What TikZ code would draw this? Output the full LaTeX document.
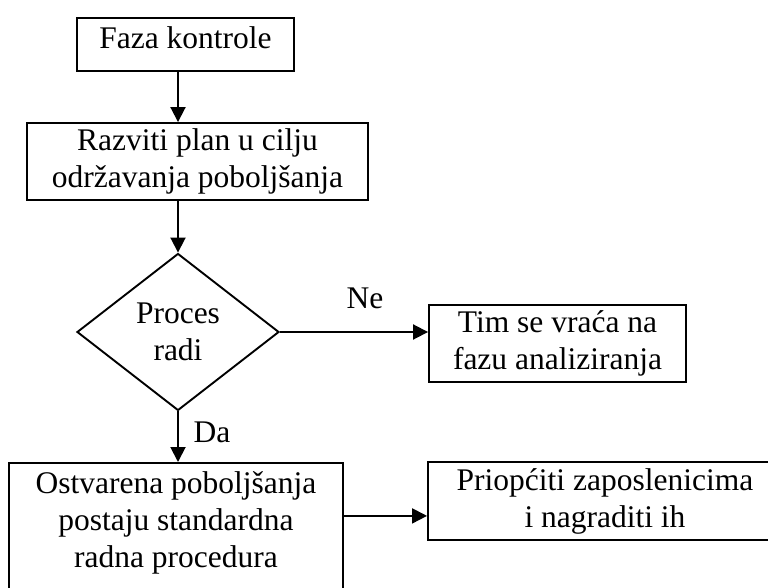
\documentclass[tikz,border=0pt]{standalone}
\usepackage{fontspec}
\setmainfont{Liberation Serif}
\usetikzlibrary{shapes.geometric,arrows.meta}

\begin{document}
\begin{tikzpicture}[x=1pt,y=-1pt,
  box/.style={draw,line width=1.9pt,align=center,inner sep=0pt,font=\fontsize{31.5}{37}\selectfont},
  odluka/.style={draw,diamond,aspect=1.29,line width=1.9pt,align=center,inner sep=0pt,font=\fontsize{31.5}{37}\selectfont},
  tok/.style={line width=1.9pt,-{Triangle[length=15pt,width=15pt]}},
  oznaka/.style={font=\fontsize{31.5}{37}\selectfont,inner sep=0pt}]
\useasboundingbox (0,0) rectangle (768,588);
\clip (0,0) rectangle (768,588);

\node[box,minimum width=217pt,minimum height=53pt,text depth=14pt] (faza) at (185.5,44.5) {Faza kontrole};
\node[box,minimum width=341pt,minimum height=77pt] (razviti) at (197.5,161.5) {Razviti plan u cilju\\održavanja poboljšanja};
\node[odluka,minimum width=202pt,minimum height=157pt] (proces) at (178,332) {Proces\\radi};
\node[box,minimum width=257pt,minimum height=77pt] (vraca) at (557.5,343.5) {Tim se vraća na\\fazu analiziranja};
\node[box,minimum width=334pt,inner ysep=9pt,anchor=north] (standard) at (176,462) {Ostvarena poboljšanja\\postaju standardna\\radna procedura\rule[-24pt]{0pt}{0pt}};
\node[box,minimum width=354pt,minimum height=78pt] (nagrada) at (605,501) {Priopćiti zaposlenicima\\i nagraditi ih};

\node[oznaka] (ne) at (365,298) {Ne};
\node[oznaka] (da) at (212,432) {Da};

\draw[tok] (faza.south -| proces.north) -- (razviti.north -| proces.north);
\draw[tok] (razviti.south -| proces.north) -- (proces.north);
\draw[tok] (proces.east) -- (proces.east -| vraca.west);
\draw[tok] (proces.south) -- (proces.south |- standard.north);
\draw[tok] ([yshift=16pt]standard.east) -- ([yshift=16pt]standard.east -| nagrada.west);

\end{tikzpicture}
\end{document}
